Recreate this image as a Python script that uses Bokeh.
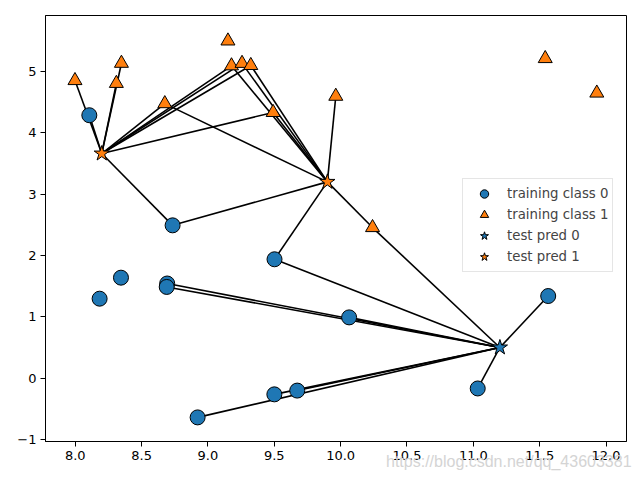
import numpy as np
from bokeh.plotting import figure
from bokeh.layouts import column
from bokeh.models import (Legend, LegendItem, CustomJSTickFormatter, FixedTicker,
                          Range1d, Div)
from bokeh.embed import file_html
from bokeh.resources import INLINE

# training data (forge)
train_x = [9.96346605, 11.0329545, 11.54155807, 8.69289001, 8.1062269, 8.30988863,
           11.93027136, 9.67284681, 8.34810316, 8.67494727, 9.17748385, 10.24028948,
           8.68937095, 8.92229526, 9.49123469, 9.25694192, 7.99815287, 8.18378052,
           8.7337095, 9.32298256, 10.06393839, 9.50048972, 8.34468785, 9.50169345,
           9.15072323, 11.563957]
train_y = [4.59676542, -0.16816717, 5.21116083, 1.54322016, 4.28695977, 4.80623966,
           4.64866327, -0.20283165, 5.13415623, 4.47573059, 5.09283177, 2.45544401,
           1.48709629, -0.63993225, 4.33224792, 5.13284858, 4.8525051, 1.29564214,
           2.49162431, 5.09840649, 0.99078055, -0.26430318, 1.63824349, 1.93824624,
           5.49832246, 1.3389402]
train_class = [1, 0, 1, 0, 0, 1, 1, 0, 1, 1, 1, 1, 0, 0, 1, 1, 1, 0, 0, 1, 0, 0, 0, 0, 1, 0]

# test points and predictions
test_x = [8.2, 9.9, 11.2]
test_y = [3.66214339, 3.2, 0.5]
test_pred = [1, 1, 0]

# neighbours (indices into training data) joined to each test point
neighbors = [
    [4, 9, 5, 16, 18, 14, 8, 10, 15, 19],
    [11, 14, 23, 18, 0, 9, 19, 10, 15],
    [1, 25, 20, 7, 21, 11, 23, 13, 12, 3],
]

x_ticks = [8.0, 8.5, 9.0, 9.5, 10.0, 10.5, 11.0, 11.5, 12.0]
y_ticks = [-1, 0, 1, 2, 3, 4, 5]
labels = ["training class 0", "training class 1", "test pred 0", "test pred 1"]
colors = ["#1f77b4", "#ff7f0e"]
watermark = "https://blog.csdn.net/qq_43603381"

p = figure(width=632, height=472, x_range=Range1d(7.776, 12.154),
           y_range=Range1d(-1.033, 5.913), output_backend="svg",
           toolbar_location=None, min_border_left=45, min_border_right=6,
           min_border_top=15, min_border_bottom=31)
p.xgrid.visible = False
p.ygrid.visible = False
p.outline_line_color = "black"
p.outline_line_width = 1

for ax in (p.xaxis[0], p.yaxis[0]):
    ax.axis_line_color = "black"
    ax.major_tick_line_color = "black"
    ax.major_tick_out = 5
    ax.major_tick_in = 0
    ax.minor_tick_line_color = None
    ax.major_label_text_font = "DejaVu Sans"
    ax.major_label_text_font_size = "13px"
    ax.major_label_text_color = "black"
    ax.major_label_standoff = 4

p.xaxis.ticker = FixedTicker(ticks=x_ticks)
p.yaxis.ticker = FixedTicker(ticks=y_ticks)
p.xaxis.formatter = CustomJSTickFormatter(code="return tick.toFixed(1);")
p.yaxis.formatter = CustomJSTickFormatter(
    code="return tick < 0 ? '\u2212' + Math.abs(tick).toFixed(0) : tick.toFixed(0);")

# neighbour lines
x0, y0, x1, y1 = [], [], [], []
for i, nb in enumerate(neighbors):
    for j in nb:
        x0.append(test_x[i]); y0.append(test_y[i])
        x1.append(train_x[j]); y1.append(train_y[j])
p.segment(x0=x0, y0=y0, x1=x1, y1=y1, line_color="black", line_width=1.6)

tx = np.array(train_x); ty = np.array(train_y); tc = np.array(train_class)
r0 = p.scatter(tx[tc == 0], ty[tc == 0], marker="circle", size=15,
               fill_color=colors[0], line_color="black", line_width=1)
r1 = p.scatter(tx[tc == 1], ty[tc == 1], marker="triangle", size=14,
               fill_color=colors[1], line_color="black", line_width=1)
sx = np.array(test_x); sy = np.array(test_y); sp = np.array(test_pred)
r2 = p.scatter(sx[sp == 0], sy[sp == 0], marker="star", size=16,
               fill_color=colors[0], line_color="black", line_width=1)
r3 = p.scatter(sx[sp == 1], sy[sp == 1], marker="star", size=16,
               fill_color=colors[1], line_color="black", line_width=1)

legend = Legend(items=[LegendItem(label=labels[0], renderers=[r0]),
                       LegendItem(label=labels[1], renderers=[r1]),
                       LegendItem(label=labels[2], renderers=[r2]),
                       LegendItem(label=labels[3], renderers=[r3])],
                location=(417, 169))
legend.label_text_font = "DejaVu Sans"
legend.label_text_font_size = "13.3px"
legend.padding = 4
legend.spacing = 0
legend.label_height = 21
legend.glyph_height = 21
legend.glyph_width = 34
legend.label_standoff = 6
legend.margin = 0
legend.border_line_color = "#cccccc"
legend.border_line_width = 1
legend.background_fill_alpha = 0.8
p.add_layout(legend, "center")

wm = Div(text=watermark, width=252, height=20, margin=(-21, 0, 0, 386),
         styles={"color": "#d4d4d4", "font-family": "Liberation Sans",
                 "font-size": "16px", "white-space": "nowrap"})

open("out.html", "w").write(file_html(column(p, wm), INLINE))
